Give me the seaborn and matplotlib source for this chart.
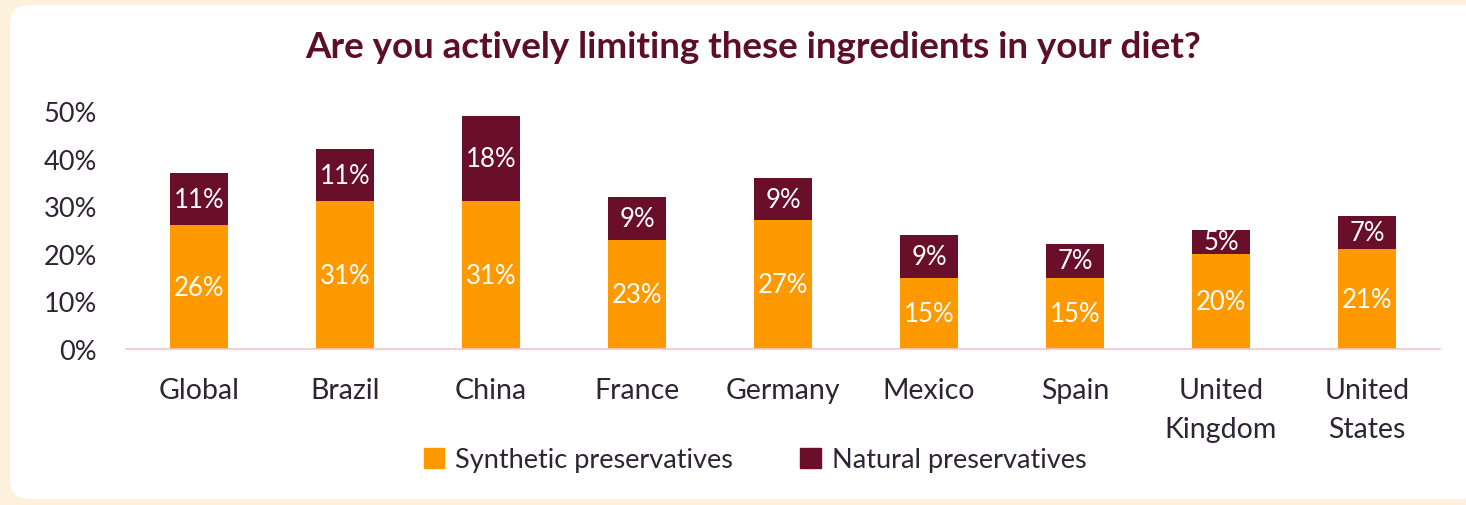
import pandas as pd
import matplotlib.pyplot as plt
import seaborn as sns
from matplotlib.patches import FancyBboxPatch, Patch

# --- datos ---
paises = ['Global', 'Brazil', 'China', 'France', 'Germany', 'Mexico', 'Spain',
          'United\nKingdom', 'United\nStates']
sinteticos = [26, 31, 31, 23, 27, 15, 15, 20, 21]
naturales = [11, 11, 18, 9, 9, 9, 7, 5, 7]

naranja = '#FF9900'
granate = '#6A0F2A'
texto = '#2E2433'

df = pd.DataFrame({'pais': paises, 'sintetico': sinteticos, 'natural': naturales})
df['total'] = df['sintetico'] + df['natural']

sns.set_theme(style='white')
plt.rcParams['font.family'] = ['Lato', 'DejaVu Sans']

fig = plt.figure(figsize=(14.66, 5.06), dpi=100)
fig.patch.set_facecolor('#FDF0DD')
# panel blanco redondeado
panel = FancyBboxPatch((10 / 1466, 6 / 506), 1470 / 1466, 494 / 506,
                       boxstyle='round,pad=0,rounding_size=0.013',
                       transform=fig.transFigure, facecolor='white',
                       edgecolor='none', zorder=-5, mutation_aspect=1466 / 506)
fig.patches.append(panel)

ax = fig.add_axes([126 / 1466, 1 - 350 / 506, (1440 - 126) / 1466, (350 - 112) / 506])
ax.set_facecolor('none')
ax.set_zorder(1)

# barra total (granate) y encima la parte sintetica (naranja)
sns.barplot(data=df, x='pais', y='total', color=granate, width=0.4, saturation=1,
            linewidth=0, ax=ax)
sns.barplot(data=df, x='pais', y='sintetico', color=naranja, width=0.4, saturation=1,
            linewidth=0, ax=ax)

for i, (s, n) in enumerate(zip(sinteticos, naturales)):
    ax.text(i, s / 2, f'{s}%', ha='center', va='center', color='white', fontsize=18.5)
    ax.text(i, s + n / 2, f'{n}%', ha='center', va='center', color='white', fontsize=18.5)

ax.set_ylim(0, 50)
ax.set_xlim(-0.5, 8.5)
ax.set_yticks(range(0, 51, 10))
ax.set_yticklabels([f'{v}%' for v in range(0, 51, 10)])
ax.set_xlabel('')
ax.set_ylabel('')
ax.tick_params(axis='y', length=0, pad=21, labelsize=19.5, labelcolor=texto)
ax.tick_params(axis='x', length=0, pad=20, labelsize=20.5, labelcolor=texto)
for lab in ax.get_xticklabels():
    lab.set_linespacing(1.65)

for lado in ['top', 'right', 'left']:
    ax.spines[lado].set_visible(False)
ax.spines['bottom'].set_color('#F3C6CF')
ax.spines['bottom'].set_linewidth(1.2)

fig.text(753 / 1466, 1 - 48 / 506, 'Are you actively limiting these ingredients in your diet?',
         ha='center', va='center', fontsize=26.5, fontweight='bold', color='#5C0F26')

handles = [Patch(color=naranja, label='Synthetic preservatives'),
           Patch(color=granate, label='Natural preservatives')]
fig.legend(handles=handles, loc='center', bbox_to_anchor=(755 / 1466, 1 - 461 / 506),
           ncol=2, frameon=False, fontsize=19.5, handlelength=0.75, handleheight=0.75,
           handletextpad=0.4, columnspacing=2.5, labelcolor=texto)

plt.savefig('out.png', dpi=100, facecolor=fig.get_facecolor())
